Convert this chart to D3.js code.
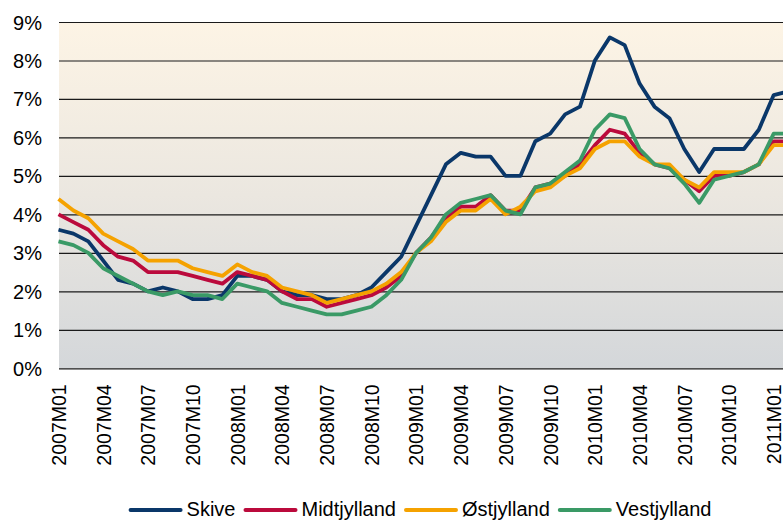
<!DOCTYPE html>
<html>
<head>
<meta charset="utf-8">
<script src="https://cdn.jsdelivr.net/npm/d3@7"></script>
<style>
  body { margin: 0; background: #fff; }
  svg { display: block; font-family: "Liberation Sans", Arial, sans-serif; }
</style>
</head>
<body>
<div id="chart"></div>
<script>
// months 2007M01 .. 2011M02 (the last one is cut off by the right edge)
const months = [];
for (let y = 2007; y <= 2011; ++y) {
    for (let m = 1; m <= 12; ++m) {
        if (y === 2011 && m > 2) break;
        months.push(y + "M" + (m < 10 ? "0" + m : m));
    }
}
const tickLabels = ["2007M01", "2007M04", "2007M07", "2007M10", "2008M01", "2008M04", "2008M07",
    "2008M10", "2009M01", "2009M04", "2009M07", "2009M10", "2010M01", "2010M04", "2010M07",
    "2010M10", "2011M01"];
const yTicks = [0, 1, 2, 3, 4, 5, 6, 7, 8, 9];

const seriesNames = ["Skive", "Midtjylland", "Østjylland", "Vestjylland"];
const seriesColors = ["#0a3769", "#bb0a3c", "#f5a200", "#3a9a66"];

const skive = [3.6, 3.5, 3.3, 2.8, 2.3, 2.2, 2.0, 2.1, 2.0, 1.8, 1.8, 1.9,
    2.4, 2.4, 2.3, 2.0, 1.9, 1.9, 1.8, 1.8, 1.9, 2.1, 2.5, 2.9,
    3.7, 4.5, 5.3, 5.6, 5.5, 5.5, 5.0, 5.0, 5.9, 6.1, 6.6, 6.8,
    8.0, 8.6, 8.4, 7.4, 6.8, 6.5, 5.7, 5.1, 5.7, 5.7, 5.7, 6.2,
    7.1, 7.2];
const midtjylland = [4.0, 3.8, 3.6, 3.2, 2.9, 2.8, 2.5, 2.5, 2.5, 2.4, 2.3, 2.2,
    2.5, 2.4, 2.3, 2.0, 1.8, 1.8, 1.6, 1.7, 1.8, 1.9, 2.1, 2.4,
    3.0, 3.4, 3.9, 4.2, 4.2, 4.5, 4.1, 4.1, 4.7, 4.8, 5.0, 5.3,
    5.8, 6.2, 6.1, 5.6, 5.3, 5.2, 4.9, 4.6, 5.0, 5.0, 5.1, 5.3,
    5.9, 5.9];
const ostjylland = [4.4, 4.1, 3.9, 3.5, 3.3, 3.1, 2.8, 2.8, 2.8, 2.6, 2.5, 2.4,
    2.7, 2.5, 2.4, 2.1, 2.0, 1.9, 1.7, 1.8, 1.9, 2.0, 2.2, 2.5,
    3.0, 3.3, 3.8, 4.1, 4.1, 4.4, 4.0, 4.2, 4.6, 4.7, 5.0, 5.2,
    5.7, 5.9, 5.9, 5.5, 5.3, 5.3, 4.9, 4.7, 5.1, 5.1, 5.1, 5.3,
    5.8, 5.8];
const vestjylland = [3.3, 3.2, 3.0, 2.6, 2.4, 2.2, 2.0, 1.9, 2.0, 1.9, 1.9, 1.8,
    2.2, 2.1, 2.0, 1.7, 1.6, 1.5, 1.4, 1.4, 1.5, 1.6, 1.9, 2.3,
    3.0, 3.4, 4.0, 4.3, 4.4, 4.5, 4.1, 4.0, 4.7, 4.8, 5.1, 5.4,
    6.2, 6.6, 6.5, 5.7, 5.3, 5.2, 4.8, 4.3, 4.9, 5.0, 5.1, 5.3,
    6.1, 6.1];
const seriesValues = [skive, midtjylland, ostjylland, vestjylland];

const width = 783;
const height = 520;
const plotLeft = 59;
const plotTop = 22;
const plotBottom = 368.3;

const svg = d3.select("#chart").append("svg")
    .attr("width", width)
    .attr("height", height);

const x = d3.scalePoint()
    .domain(months)
    .range([58.5, 58.5 + (months.length - 1) * 14.9]);

const y = d3.scaleLinear()
    .domain([0, 9])
    .range([plotBottom, plotTop]);

// background gradient
const grad = svg.append("defs").append("linearGradient")
    .attr("id", "bg")
    .attr("x1", 0).attr("y1", 0)
    .attr("x2", 0).attr("y2", 1);
grad.append("stop").attr("offset", "0%").attr("stop-color", "#fdf4e5");
grad.append("stop").attr("offset", "50%").attr("stop-color", "#ebe7e0");
grad.append("stop").attr("offset", "100%").attr("stop-color", "#d4d7da");

svg.append("rect")
    .attr("x", plotLeft)
    .attr("y", plotTop)
    .attr("width", width - plotLeft)
    .attr("height", plotBottom - plotTop)
    .attr("fill", "url(#bg)");

// grid lines + y labels
const yAxis = svg.append("g")
    .attr("transform", "translate(" + plotLeft + ",0)")
    .call(d3.axisRight(y)
        .tickValues(yTicks)
        .tickSize(width - plotLeft)
        .tickFormat(d => d + "%"));
yAxis.select(".domain").remove();
yAxis.selectAll(".tick line")
    .attr("stroke", "#1a1a1a")
    .attr("stroke-width", 1.2);
yAxis.selectAll(".tick text")
    .attr("x", -17)
    .attr("dy", "0.35em")
    .attr("text-anchor", "end")
    .attr("fill", "#000")
    .style("font-size", "20px")
    .style("font-family", "'Liberation Sans', Arial, sans-serif");

// x labels
const xAxis = svg.append("g")
    .attr("transform", "translate(0," + plotBottom + ")")
    .call(d3.axisBottom(x).tickValues(tickLabels).tickSize(0));
xAxis.select(".domain").remove();
xAxis.selectAll(".tick text")
    .attr("transform", "rotate(-90)")
    .attr("x", -16)
    .attr("y", 0)
    .attr("dy", "0.35em")
    .attr("text-anchor", "end")
    .attr("fill", "#000")
    .style("font-size", "19.5px")
    .style("font-family", "'Liberation Sans', Arial, sans-serif");

// lines
const line = d3.line()
    .x((d, i) => x(months[i]))
    .y(d => y(d));

svg.append("clipPath").attr("id", "plotclip")
    .append("rect")
    .attr("x", plotLeft - 3).attr("y", 0)
    .attr("width", width).attr("height", plotBottom + 5);

const lines = svg.append("g").attr("clip-path", "url(#plotclip)");
seriesValues.forEach(function(vals, k) {
    lines.append("path")
        .datum(vals)
        .attr("d", line)
        .attr("fill", "none")
        .attr("stroke", seriesColors[k])
        .attr("stroke-width", 3.8)
        .attr("stroke-linejoin", "round");
});

// legend, centred under the plot
const legend = svg.append("g");
let lx = 0;
seriesNames.forEach(function(name, k) {
    legend.append("line")
        .attr("x1", lx).attr("x2", lx + 50)
        .attr("y1", 510).attr("y2", 510)
        .attr("stroke", seriesColors[k])
        .attr("stroke-width", 4)
        .attr("stroke-linecap", "round");
    const t = legend.append("text")
        .attr("x", lx + 56)
        .attr("y", 516)
        .style("font-size", "20px")
        .attr("fill", "#000")
        .text(name);
    lx += 56 + t.node().getComputedTextLength() + 10;
});
const legendWidth = lx - 10;
legend.attr("transform", "translate(" + ((plotLeft + width) / 2 - legendWidth / 2) + ",0)");
</script>
</body>
</html>
